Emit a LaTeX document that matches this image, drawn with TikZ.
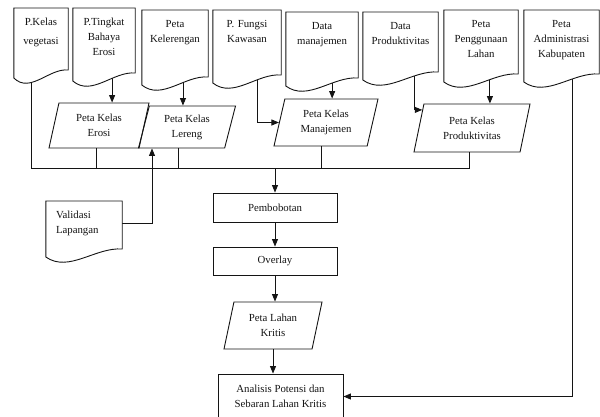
\documentclass[tikz,border=0pt]{standalone}
\usepackage{fontspec}
\setmainfont{Liberation Serif}
\usepackage{tikz}
\usetikzlibrary{arrows.meta,calc,backgrounds,shapes.geometric}
\definecolor{ink}{RGB}{20,20,20}
\newcommand\flowfont{\fontsize{10.8}{15}\selectfont}
\tikzset{
  docnode/.style={anchor=north, font=\flowfont, align=center, inner xsep=1pt,
              inner ysep=10pt, text=ink},
  docline/.style={draw=ink, line width=0.9pt, fill=white},
  databox/.style={trapezium, trapezium left angle=68, trapezium right angle=112,
              trapezium stretches body, draw=ink, line width=0.9pt, font=\flowfont,
              align=center, inner sep=1pt, text=ink},
  procbox/.style={rectangle, draw=ink, line width=0.9pt, font=\flowfont,
              align=center, text=ink},
  link/.style={draw=ink, line width=0.9pt},
  flow/.style={link, -{Triangle[length=7.5pt,width=6pt]}},
}
\begin{document}
\begin{tikzpicture}[x=1pt,y=-1pt]
    \useasboundingbox (0,0) rectangle (600,416);
    \node[docnode,text width=52] (veg) at (41,8)    {P.Kelas\\[4pt]vegetasi};
    \node[docnode,text width=60] (pti) at (104,8)   {P.Tingkat\\Bahaya\\Erosi};
    \node[docnode,text width=64] (kel) at (175,10)  {Peta\\Kelerengan};
    \node[docnode,text width=66] (fun) at (247,10)  {P. Fungsi\\Kawasan};
    \node[docnode,text width=70] (man) at (322,12)  {Data\\manajemen};
    \node[docnode,text width=73] (pro) at (400.5,12) {Data\\Produktivitas};
    \node[docnode,text width=72] (pen) at (481,10)  {Peta\\Penggunaan\\Lahan};
    \node[docnode,text width=73] (adm) at (561.5,10) {Peta\\Administrasi\\Kabupaten};
    \node[docnode,text width=56,align=left,inner xsep=10pt] (val) at (84,201) {Validasi\\Lapangan};
    \node[databox,minimum width=100,minimum height=45] (erosi)  at (99,125.5) {Peta Kelas\\Erosi};
    \node[databox,minimum width=97,minimum height=42]  (lereng) at (187,127) {Peta Kelas\\Lereng};
    \node[databox,minimum width=104,minimum height=47] (manaj)  at (326,122.5) {Peta Kelas\\Manajemen};
    \node[databox,minimum width=116,minimum height=48] (produk) at (472,128)   {Peta Kelas\\Produktivitas};
    \node[procbox,minimum width=124,minimum height=29] (bobot)   at (275,207.5) {Pembobotan};
    \node[procbox,minimum width=124,minimum height=28] (overlay) at (275,261)   {Overlay};
    \node[databox,minimum width=98,minimum height=47]  (lahan)   at (273,325.5) {Peta Lahan\\Kritis};
    \node[procbox,minimum width=125,minimum height=45] (analisis) at (280.5,396.5) {Analisis Potensi dan\\Sebaran Lahan Kritis};
    \coordinate (bus) at (0,168);
    \foreach \n/\f in {veg/0.33,pti/0.63,kel/0.62,fun/0.66,man/0.64,pro/0.68,pen/0.62,adm/0.65}
      \coordinate (\n-out) at ($(\n.south west)!\f!(\n.south east)$);
    \begin{scope}[on background layer]
      \draw[link] (veg-out) |- ([xshift=-3pt]produk.south |- bus) -- ([xshift=-3pt]produk.south);
      \draw[link] ([xshift=-3pt]erosi.south) -- ([xshift=-3pt]erosi.south |- bus);
      \draw[link] ([xshift=-9pt]lereng.south) -- ([xshift=-9pt]lereng.south |- bus);
      \draw[link] ([xshift=-5pt]manaj.south) -- ([xshift=-5pt]manaj.south |- bus);
      \draw[flow] (bobot.north |- bus) -- (bobot.north);
      \draw[flow] (pti-out) -- (pti-out |- erosi.north);
      \draw[flow] (kel-out) -- (kel-out |- lereng.north);
      \draw[flow] (fun-out) |- (manaj.west);
      \draw[flow] (man-out) -- (man-out |- manaj.north);
      \draw[flow] (pro-out) |- (produk.160);
      \draw[flow] (pen-out) -- (pen-out |- produk.north);
      \draw[flow] (adm-out) |- (analisis.east);
      \draw[flow] (val.east) -| ([xshift=-35pt]lereng.south);
      \foreach \n/\h in {veg/70,pti/73,kel/75,fun/73,man/74,pro/68,pen/72,adm/72,val/56}
        \draw[docline] (\n.north west) -- (\n.north east) -- ($(\n.north east)+(0,\h-8)$)
          .. controls ($(\n.north west)!0.65!(\n.north east)+(0,\h-10)$)
          and ($(\n.north west)!0.3!(\n.north east)+(0,\h+16)$) .. ($(\n.north west)+(0,\h)$) -- cycle;
    \end{scope}
    \draw[flow] (bobot) -- (overlay);
    \draw[flow] (overlay.south) -- (overlay.south |- lahan.north);
    \draw[flow] (lahan.south) -- (lahan.south |- analisis.north);
  \end{tikzpicture}
\end{document}
